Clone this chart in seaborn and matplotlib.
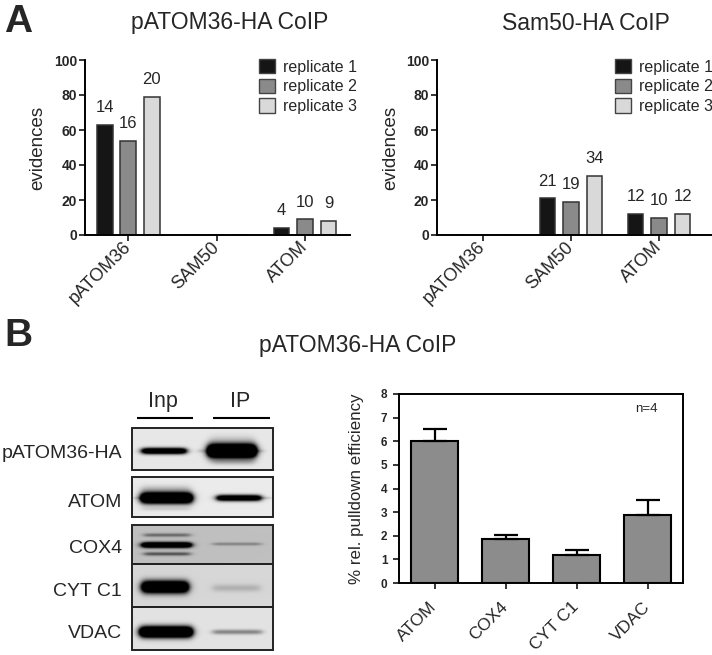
import numpy as np
import pandas as pd
import matplotlib
matplotlib.use("Agg")
import matplotlib.pyplot as plt
import seaborn as sns
from matplotlib.patches import Patch, Rectangle

# ---------------- data ----------------
proteins_A = ["pATOM36", "SAM50", "ATOM"]
replicates = ["replicate 1", "replicate 2", "replicate 3"]

patom_rep1 = [63, 0, 4]
patom_rep2 = [54, 0, 9]
patom_rep3 = [79, 0, 8]
patom_lab1 = ["14", "", "4"]
patom_lab2 = ["16", "", "10"]
patom_lab3 = ["20", "", "9"]

sam_rep1 = [0, 21, 12]
sam_rep2 = [0, 19, 10]
sam_rep3 = [0, 34, 12]
sam_lab1 = ["", "21", "12"]
sam_lab2 = ["", "19", "10"]
sam_lab3 = ["", "34", "12"]

yticks_A = [0, 20, 40, 60, 80, 100]

proteins_B = ["ATOM", "COX4", "CYT C1", "VDAC"]
pulldown_mean = [6.0, 1.88, 1.17, 2.87]
pulldown_err = [0.52, 0.14, 0.24, 0.65]
yticks_B = [0, 1, 2, 3, 4, 5, 6, 7, 8]

blot_rows = ["pATOM36-HA", "ATOM", "COX4", "CYT C1", "VDAC"]
blot_lanes = ["Inp", "IP"]

# ---------------- style ----------------
sns.set_style("ticks")
plt.rcParams["font.family"] = ["Liberation Sans", "DejaVu Sans"]
rep_colors = ["#151515", "#8a8a8a", "#d9d9d9"]

W, H = 712, 655
fig = plt.figure(figsize=(W / 100, H / 100), dpi=100)


def ax_rect(x0, x1, ytop, ybot):
    return [x0 / W, 1 - ybot / H, (x1 - x0) / W, (ybot - ytop) / H]


def panel_A(ax, vals, labs, xlim, leg_x, ylab_x):
    df = pd.DataFrame({
        "protein": proteins_A * 3,
        "replicate": np.repeat(replicates, len(proteins_A)),
        "evidences": np.concatenate(vals),
    })
    sns.barplot(data=df, x="protein", y="evidences", hue="replicate",
                order=proteins_A, hue_order=replicates, palette=rep_colors,
                saturation=1, width=0.8, gap=0.33, errorbar=None,
                edgecolor="#333333", linewidth=1.1, legend=False, ax=ax)
    for cont, lab in zip(ax.containers, labs):
        ax.bar_label(cont, labels=lab, padding=7, fontsize=12)
    ax.set_ylim(0, 100)
    ax.set_yticks(yticks_A)
    ax.set_xlim(*xlim)
    sns.despine(ax=ax)
    for s in ["left", "bottom"]:
        ax.spines[s].set_linewidth(1.4)
        ax.spines[s].set_color("black")
    ax.tick_params(axis="y", length=4, width=1.3, pad=1.5, labelsize=10)
    ax.tick_params(axis="x", length=4, width=1.3, pad=3, labelsize=13)
    for t in ax.get_yticklabels():
        t.set_fontweight("bold")
    for t in ax.get_xticklabels():
        t.set_rotation(45)
        t.set_ha("right")
        t.set_va("center")
        t.set_rotation_mode("anchor")
    ax.set_xlabel("")
    ax.set_ylabel("evidences", fontsize=13.5)
    ax.yaxis.set_label_coords(ylab_x, 0.5)
    handles = [Patch(facecolor=c, edgecolor="#444444", linewidth=1.0) for c in rep_colors]
    ax.legend(handles, replicates, loc="upper left", bbox_to_anchor=(leg_x, 1.005),
              frameon=False, fontsize=11.5, handlelength=1.0, handleheight=1.0,
              handletextpad=0.5, labelspacing=0.25, borderpad=0, borderaxespad=0)


axA1 = fig.add_axes(ax_rect(85, 350, 60, 235))
panel_A(axA1, [patom_rep1, patom_rep2, patom_rep3],
        [patom_lab1, patom_lab2, patom_lab3], (-0.49, 2.51), 0.657, -0.147)

axA2 = fig.add_axes(ax_rect(437, 712, 60, 235))
panel_A(axA2, [sam_rep1, sam_rep2, sam_rep3],
        [sam_lab1, sam_lab2, sam_lab3], (-0.52, 2.60), 0.647, -0.138)

# ---------------- panel B bars ----------------
axB = fig.add_axes(ax_rect(399, 683, 394, 583))
sns.barplot(x=proteins_B, y=pulldown_mean, color="#8c8c8c", saturation=1,
            width=0.65, edgecolor="black", linewidth=1.5, errorbar=None, ax=axB)
xpos = np.arange(len(proteins_B))
axB.errorbar(xpos, pulldown_mean, yerr=[np.zeros(len(proteins_B)), pulldown_err],
             fmt="none", ecolor="black", elinewidth=1.6, capsize=8.6, capthick=1.6, zorder=1)
axB.set_ylim(0, 8)
axB.set_yticks(yticks_B)
axB.set_xlim(-0.5, 3.5)
for s in axB.spines.values():
    s.set_linewidth(1.4)
    s.set_color("black")
axB.tick_params(axis="y", length=4.3, width=1.3, pad=4, labelsize=8.5)
axB.tick_params(axis="x", length=4.3, width=1.3, pad=11, labelsize=12.5)
for t in axB.get_yticklabels():
    t.set_fontweight("bold")
for t in axB.get_xticklabels():
    t.set_rotation(45)
    t.set_ha("right")
    t.set_va("center")
    t.set_rotation_mode("anchor")
axB.set_ylabel("% rel. pulldown efficiency", fontsize=12.2)
axB.yaxis.set_label_coords(-0.123, 0.5)
axB.text(0.87, 0.906, "n=4", transform=axB.transAxes, ha="center", va="baseline", fontsize=9.5)

# ---------------- overlay: letters, titles, western blot ----------------
ov = fig.add_axes([0, 0, 1, 1])
ov.set_zorder(-1)
ov.patch.set_alpha(0)

ov.text(4, 32, "A", fontsize=28, fontweight="bold", ha="left", va="baseline")
ov.text(230, 29.5, "pATOM36-HA CoIP", fontsize=16.5, ha="center", va="baseline")
ov.text(586, 30, "Sam50-HA CoIP", fontsize=16.5, ha="center", va="baseline")
ov.text(4, 346.5, "B", fontsize=28, fontweight="bold", ha="left", va="baseline")
ov.text(358, 352, "pATOM36-HA CoIP", fontsize=16.5, ha="center", va="baseline")

# lane headers
for lab, xc, (l0, l1) in zip(blot_lanes, [163, 240], [(137, 193), (213, 270)]):
    ov.text(xc, 407, lab, fontsize=15.5, ha="center", va="baseline")
    ov.plot([l0, l1], [418, 418], color="black", lw=1.5, solid_capstyle="butt")

# row labels
for lab, yb in zip(blot_rows, [458, 507, 553, 596, 638]):
    ov.text(122, yb, lab, fontsize=14, ha="right", va="baseline")

# blot boxes: (top, bottom, background) and bands (x0, x1, yc, thickness, darkness)
bx0, bx1 = 132, 273
boxes = [
    (428, 470, 0.91, [(142, 186, 451, 5, 1.6), (208, 256, 451, 11, 2.4),
                      (199, 205, 451, 3, 0.2), (257, 263, 451, 3, 0.2),
                      (210, 254, 440, 9, 0.10), (212, 254, 462, 5, 0.18)]),
    (477, 517, 0.92, [(141, 192, 498, 9, 2.1), (217, 261, 498, 5, 1.5),
                      (141, 190, 489, 7, 0.15), (142, 190, 509, 3, 0.10),
                      (133, 141, 498, 2, 0.15), (261, 272, 498, 2, 0.15)]),
    (525, 564, 0.75, [(144, 190, 535, 3, 0.35), (142, 191, 545, 4.5, 1.6),
                      (144, 190, 554, 3, 0.45), (213, 261, 544, 2.5, 0.25)]),
    (564, 607, 0.84, [(142, 188, 587, 10, 1.8), (213, 260, 588, 6, 0.15)]),
    (607, 650, 0.89, [(140, 192, 632, 9, 2.1), (213, 262, 632, 4, 0.38)]),
]
res = 3
for top, bot, bg, bands in boxes:
    nx, ny = int((bx1 - bx0) * res), int((bot - top) * res)
    X, Y = np.meshgrid(np.linspace(bx0, bx1, nx), np.linspace(top, bot, ny))
    img = np.full((ny, nx), bg)
    for b0, b1, yc, th, dk in bands:
        sx = 1 / (1 + np.exp(-(X - b0) / 2.0)) / (1 + np.exp((X - b1) / 2.0))
        sy = np.exp(-4 * np.log(2) * ((Y - yc) / th) ** 2)
        img -= dk * sx * sy
    img = np.clip(img, 0, 1)
    ov.imshow(img, extent=(bx0, bx1, bot, top), cmap="gray", vmin=0, vmax=1,
              interpolation="bilinear", aspect="auto")
    ov.add_patch(Rectangle((bx0, top), bx1 - bx0, bot - top, fill=False,
                           edgecolor="#222222", lw=1.4))

ov.set_xlim(0, W)
ov.set_ylim(H, 0)
ov.axis("off")

fig.savefig("out.png", dpi=100)
